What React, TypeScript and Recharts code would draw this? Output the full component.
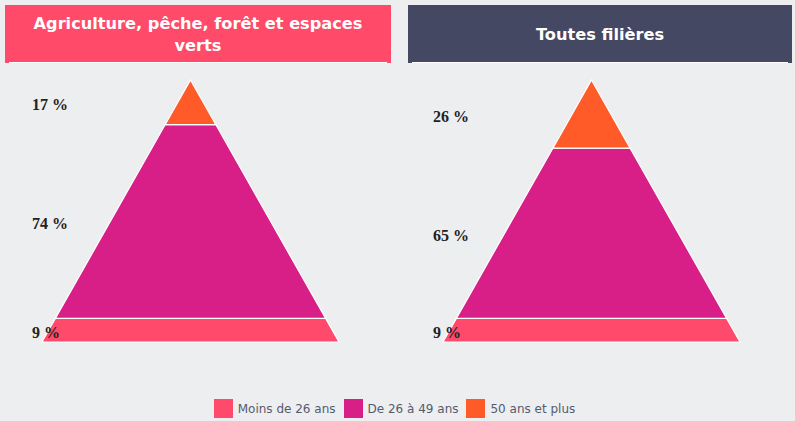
import React from "react"
import { BarChart, Bar, XAxis, YAxis, LabelList } from "recharts"

const AGES = ["Moins de 26 ans", "De 26 à 49 ans", "50 ans et plus"]
const KEYS = ["moins26", "de26a49", "plus50"]
const COLORS = ["#ff4a6b", "#d81f87", "#ff5b29"]

const AGRI_TITLE = "Agriculture, pêche, forêt et espaces verts"
const AGRI_VALUES = [9, 74, 17]
const ALL_TITLE = "Toutes filières"
const ALL_VALUES = [9, 65, 26]

const PLOT_TOP = 17
const PLOT_H = 262
const BASE_W = 297

const toRow = (values: number[]) => {
  const row: Record<string, number | string> = { name: "total" }
  KEYS.forEach((k, i) => (row[k] = values[i]))
  return [row]
}

// slice of a triangle whose apex sits at the top of the plot
function PyramidSlice(props: any) {
  const { x, y, width, height, fill } = props
  const cx = x + width / 2
  const half = (py: number) => ((py - PLOT_TOP) / PLOT_H) * (width / 2)
  const y2 = y + height
  const pts = [
    [cx - half(y), y],
    [cx + half(y), y],
    [cx + half(y2), y2],
    [cx - half(y2), y2],
  ]
    .map((p) => p.join(","))
    .join(" ")
  return <polygon points={pts} fill={fill} stroke="#ffffff" strokeWidth={1.2} />
}

function SideLabel(props: any) {
  const { x, y, height, value } = props
  return (
    <text
      x={x - 10}
      y={y + height / 2 + 4}
      dominantBaseline="middle"
      fontFamily="'Liberation Serif', serif"
      fontWeight="bold"
      fontSize={16}
      fill="#222"
    >
      {value} %
    </text>
  )
}

function Pyramid({ title, values, bg, left, width, marginLeft }: { title: string; values: number[]; bg: string; left: number; width: number; marginLeft: number }) {
  return (
    <div style={{ position: "absolute", left, top: 5, width }}>
      <div
        style={{
          height: 58,
          background: bg,
          color: "#fff",
          fontFamily: "'DejaVu Sans', sans-serif",
          fontWeight: "bold",
          fontSize: 16.2,
          lineHeight: "22px",
          display: "flex",
          alignItems: "center",
          justifyContent: "center",
          textAlign: "center",
          padding: "2px 20px 0",
          boxSizing: "border-box",
          position: "relative",
        }}
      >
        {title}
        <div style={{ position: "absolute", left: 4, right: 4, bottom: 0, height: 1, background: "#fff" }} />
      </div>
      <BarChart
        width={width}
        height={PLOT_TOP + PLOT_H + 2}
        data={toRow(values)}
        margin={{ top: PLOT_TOP, right: width - marginLeft - BASE_W, bottom: 2, left: marginLeft }}
        barCategoryGap="0%"
        barGap={0}
      >
        <XAxis dataKey="name" hide />
        <YAxis hide domain={[0, 100]} />
        {KEYS.map((k, i) => (
          <Bar key={k} dataKey={k} name={AGES[i]} stackId="a" fill={COLORS[i]} shape={<PyramidSlice />} isAnimationActive={false}>
            <LabelList dataKey={k} content={<SideLabel />} />
          </Bar>
        ))}
      </BarChart>
    </div>
  )
}

export default function App() {
  return (
    <div style={{ width: 795, height: 421, background: "#edeef0", position: "relative", overflow: "hidden" }}>
      <style>{"body{margin:0}"}</style>
      <Pyramid title={AGRI_TITLE} values={AGRI_VALUES} bg="#ff4a6a" left={5} width={386} marginLeft={37} />
      <Pyramid title={ALL_TITLE} values={ALL_VALUES} bg="#454862" left={408} width={384} marginLeft={35} />
      <div
        style={{
          position: "absolute",
          top: 399,
          left: 0,
          width: 789,
          display: "flex",
          justifyContent: "center",
          fontFamily: "'DejaVu Sans', sans-serif",
          fontSize: 12,
          color: "#555b6e",
        }}
      >
        {AGES.map((a, i) => (
          <div key={a} style={{ display: "flex", alignItems: "center", marginRight: i < AGES.length - 1 ? 8 : 0 }}>
            <span style={{ width: 19, height: 19, background: COLORS[i], marginRight: 5, display: "inline-block" }} />
            <span>{a}</span>
          </div>
        ))}
      </div>
    </div>
  )
}
